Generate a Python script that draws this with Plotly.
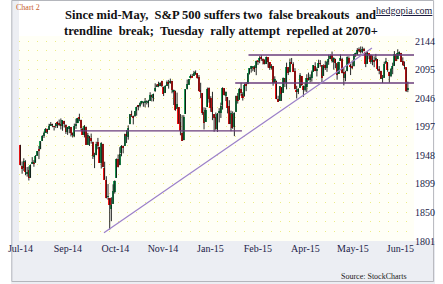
import plotly.graph_objects as go

# ---------------- data (S&P 500 daily, 31 Jul 2014 - 30 Jun 2015) ----------------
opens = [
    1965.1,
    1929.8, 1926.6, 1936.3, 1917.3, 1923.0, 1910.4, 1933.4, 1935.7, 1935.6, 1947.4, 1958.9, 1958.4, 1972.7, 1980.5, 1986.8, 1992.6, 1991.7, 1998.6, 2000.5, 1997.4, 1998.5,
    2004.1, 2003.6, 2001.7, 1998.0, 2007.2, 2000.7, 1988.4, 1992.9, 1996.7, 1986.0, 1981.9, 1999.3, 2003.1, 2012.7, 2009.1, 1992.8, 1983.3, 1997.3, 1966.2, 1979.0, 1978.2,
    1971.4, 1945.8, 1948.1, 1970.0, 1962.4, 1935.6, 1967.7, 1925.6, 1905.7, 1877.1, 1874.2, 1855.9, 1864.9, 1885.6, 1909.4, 1941.3, 1931.0, 1951.6, 1963.0, 1964.1, 1983.3, 1979.5, 2001.2,
    2018.2, 2015.8, 2015.3, 2023.3, 2032.4, 2032.0, 2038.2, 2037.8, 2039.2, 2039.7, 2038.3, 2041.5, 2051.2, 2045.9, 2057.5, 2065.1, 2070.2, 2067.4, 2074.8,
    2065.8, 2054.8, 2067.5, 2073.6, 2072.8, 2074.8, 2056.6, 2058.9, 2027.9, 2030.4, 2005.0, 1986.7, 1973.8, 2019.0, 2061.0, 2069.3, 2081.5, 2083.3, 2084.3, 2087.6, 2088.5, 2082.1,
    2058.9, 2054.4, 2022.2, 2005.6, 2030.6, 2063.5, 2046.1, 2031.6, 2018.4, 2013.8, 1992.3, 2020.8, 2020.2, 2034.3, 2063.0, 2050.4, 2047.9, 2032.3, 2002.5, 2019.4,
    1996.7, 2022.7, 2048.9, 2043.5, 2062.3, 2053.5, 2049.4, 2068.6, 2070.0, 2088.8, 2096.5, 2099.2, 2099.3, 2097.7, 2109.8, 2109.1, 2115.3, 2113.9, 2110.9,
    2105.2, 2115.8, 2107.7, 2098.5, 2100.9, 2072.3, 2076.1, 2044.7, 2041.1, 2064.6, 2055.4, 2080.6, 2072.8, 2098.7, 2090.3, 2108.0, 2103.9, 2093.1, 2059.9, 2055.8, 2064.1, 2084.1,
    2067.6, 2060.0, 2064.9, 2080.8, 2076.9, 2081.3, 2091.5, 2102.0, 2092.3, 2097.8, 2106.0, 2102.6, 2084.1, 2102.8, 2098.3, 2107.2, 2112.8, 2119.3, 2108.4, 2112.5, 2105.5,
    2087.4, 2110.2, 2112.6, 2091.3, 2080.0, 2092.1, 2115.6, 2102.9, 2099.6, 2100.4, 2122.1, 2121.3, 2129.5, 2127.8, 2125.6, 2130.4, 2125.3, 2105.1, 2122.3, 2120.7,
    2108.6, 2110.4, 2110.6, 2112.4, 2095.1, 2092.3, 2079.1, 2081.1, 2106.2, 2107.4, 2091.3, 2084.3, 2097.4, 2101.6, 2121.1, 2112.5, 2123.2, 2123.7, 2109.9, 2102.6, 2098.6, 2061.2,
]
highs = [
    1966.0,
    1937.4, 1942.9, 1939.4, 1927.9, 1928.9, 1932.4, 1944.9, 1939.7, 1948.4, 1955.2, 1964.0, 1972.0, 1982.6, 1988.6, 1994.8, 1993.5, 2002.0, 2005.0, 2002.1, 1998.6, 2003.4,
    2006.1, 2009.3, 2011.2, 2007.7, 2007.2, 2001.0, 1996.7, 1997.7, 1996.7, 1987.2, 2002.3, 2010.7, 2012.3, 2019.3, 2009.1, 1995.4, 1999.8, 1997.3, 1986.4, 1981.3, 1985.2,
    1971.4, 1952.3, 1971.2, 1977.8, 1962.4, 1970.4, 1967.7, 1937.0, 1912.1, 1898.7, 1874.2, 1876.0, 1898.2, 1905.0, 1942.5, 1949.3, 1961.9, 1965.3, 1964.6, 1985.1, 1991.4, 1999.4, 2018.2,
    2024.5, 2016.0, 2023.8, 2031.6, 2034.3, 2038.7, 2041.3, 2040.3, 2046.2, 2042.2, 2043.1, 2056.1, 2052.1, 2053.8, 2071.5, 2070.2, 2074.2, 2073.3, 2075.8,
    2065.8, 2068.2, 2076.3, 2077.3, 2079.5, 2075.8, 2060.6, 2058.9, 2055.5, 2030.4, 2018.7, 2016.9, 2016.8, 2061.2, 2077.9, 2078.8, 2086.7, 2087.6, 2092.7, 2093.6, 2088.5, 2085.7,
    2072.4, 2054.4, 2030.3, 2029.6, 2064.1, 2064.4, 2049.3, 2056.9, 2018.4, 2021.4, 2020.5, 2028.9, 2038.3, 2064.6, 2063.0, 2057.6, 2047.9, 2042.5, 2024.6, 2023.3,
    2021.7, 2050.3, 2054.7, 2063.6, 2072.4, 2056.2, 2070.9, 2073.5, 2088.5, 2097.0, 2101.3, 2100.2, 2102.1, 2110.6, 2110.1, 2117.9, 2119.6, 2113.9, 2112.7,
    2117.5, 2115.8, 2107.7, 2104.3, 2100.9, 2083.5, 2076.1, 2050.1, 2066.4, 2064.6, 2081.4, 2080.6, 2106.9, 2098.7, 2113.9, 2114.9, 2107.6, 2097.4, 2067.2, 2062.8, 2089.0, 2084.1,
    2067.6, 2072.2, 2087.0, 2089.8, 2086.7, 2093.3, 2102.6, 2107.6, 2098.6, 2111.9, 2111.3, 2102.6, 2103.9, 2109.6, 2110.0, 2120.5, 2120.9, 2125.9, 2116.0, 2113.7, 2105.5,
    2108.4, 2121.0, 2115.2, 2098.4, 2092.9, 2117.7, 2117.7, 2105.1, 2110.2, 2121.5, 2123.9, 2131.8, 2133.0, 2134.7, 2134.3, 2132.2, 2125.3, 2126.2, 2122.3, 2120.7,
    2119.2, 2117.6, 2121.9, 2112.9, 2101.0, 2093.0, 2085.7, 2108.5, 2115.0, 2107.4, 2091.3, 2097.4, 2106.8, 2126.7, 2121.1, 2129.9, 2126.0, 2123.7, 2116.0, 2108.9, 2098.6, 2074.3,
]
lows = [
    1930.7,
    1916.4, 1921.2, 1913.8, 1911.4, 1904.8, 1909.0, 1933.4, 1928.3, 1935.6, 1947.4, 1941.5, 1958.4, 1972.7, 1977.7, 1986.8, 1984.8, 1991.7, 1998.6, 1996.2, 1990.5, 1994.7,
    1994.9, 1998.1, 1992.4, 1990.1, 1995.6, 1984.6, 1983.0, 1985.9, 1980.3, 1978.5, 1979.1, 1993.3, 2003.1, 2006.6, 1991.0, 1982.8, 1978.6, 1966.0, 1966.2, 1964.0, 1968.0,
    1941.7, 1926.0, 1948.1, 1958.4, 1935.1, 1925.3, 1927.6, 1906.1, 1874.1, 1871.8, 1820.7, 1835.0, 1864.9, 1882.3, 1909.4, 1927.1, 1931.0, 1946.3, 1951.4, 1964.1, 1969.0, 1974.8, 2001.2,
    2013.7, 2001.0, 2014.0, 2015.9, 2025.1, 2030.2, 2035.3, 2031.3, 2030.4, 2035.2, 2030.2, 2041.5, 2040.4, 2040.5, 2056.8, 2065.1, 2064.8, 2066.6, 2065.1,
    2049.6, 2054.8, 2066.7, 2062.3, 2070.8, 2054.3, 2034.2, 2024.3, 2027.9, 2002.3, 1982.3, 1972.6, 1973.8, 2019.0, 2061.0, 2069.3, 2079.8, 2081.9, 2084.3, 2085.8, 2079.5, 2057.9,
    2046.0, 2017.3, 1992.4, 2005.6, 2030.6, 2038.3, 2022.6, 2008.3, 1988.4, 1991.5, 1988.1, 2004.5, 2012.0, 2026.4, 2050.5, 2041.0, 2019.9, 2001.5, 1989.2, 1993.4,
    1980.9, 2022.7, 2036.7, 2043.5, 2050.0, 2041.9, 2048.6, 2058.0, 2070.0, 2086.7, 2089.8, 2092.2, 2090.8, 2085.4, 2103.0, 2105.9, 2109.9, 2103.8, 2103.8,
    2104.5, 2098.3, 2094.5, 2095.2, 2067.3, 2072.2, 2044.2, 2039.7, 2041.1, 2041.2, 2055.4, 2065.1, 2061.2, 2085.6, 2090.3, 2104.4, 2091.5, 2061.1, 2045.5, 2053.0, 2064.1, 2067.0,
    2048.4, 2057.3, 2056.5, 2076.1, 2073.3, 2074.3, 2091.5, 2092.3, 2083.2, 2097.8, 2100.0, 2072.4, 2084.1, 2094.4, 2091.1, 2103.2, 2112.8, 2107.0, 2094.9, 2097.4, 2077.6,
    2087.4, 2110.2, 2088.5, 2067.9, 2075.0, 2092.1, 2104.6, 2085.6, 2096.0, 2100.4, 2116.8, 2120.0, 2124.5, 2122.6, 2122.9, 2126.1, 2099.2, 2105.1, 2112.8, 2104.9,
    2102.5, 2099.1, 2109.6, 2093.2, 2087.0, 2079.1, 2072.1, 2081.1, 2106.2, 2091.3, 2072.5, 2082.1, 2087.1, 2101.6, 2109.5, 2112.5, 2119.2, 2108.1, 2102.0, 2095.4, 2056.6, 2056.3,
]
closes = [
    1930.7,
    1925.2, 1939.0, 1920.2, 1920.2, 1909.6, 1931.6, 1936.9, 1933.8, 1946.7, 1955.2, 1955.1, 1971.7, 1981.6, 1986.5, 1992.4, 1988.4, 1997.9, 2000.0, 2000.1, 1996.7, 2003.4,
    2002.3, 2000.7, 1997.7, 2007.7, 2001.5, 1988.4, 1995.7, 1997.5, 1985.5, 1984.1, 1999.0, 2001.6, 2011.4, 2010.4, 1994.3, 1982.8, 1998.3, 1966.0, 1982.9, 1977.8, 1972.3,
    1946.2, 1946.2, 1967.9, 1964.8, 1935.1, 1968.9, 1928.2, 1906.1, 1874.7, 1877.7, 1862.5, 1862.8, 1886.8, 1904.0, 1941.3, 1927.1, 1950.8, 1964.6, 1961.6, 1985.1, 1982.3, 1994.7, 2018.1,
    2017.8, 2012.1, 2023.6, 2031.2, 2031.9, 2038.3, 2039.7, 2038.3, 2039.3, 2039.8, 2041.3, 2051.8, 2048.7, 2052.8, 2063.5, 2069.4, 2067.0, 2072.8, 2067.6,
    2053.4, 2066.6, 2074.3, 2071.9, 2075.4, 2060.3, 2059.8, 2026.1, 2035.3, 2002.3, 1989.6, 1972.7, 2012.9, 2061.2, 2070.7, 2078.5, 2082.2, 2081.9, 2088.8, 2090.6, 2080.4, 2058.9,
    2058.2, 2020.6, 2002.6, 2025.9, 2062.1, 2044.8, 2028.3, 2023.0, 2011.3, 1992.7, 2019.4, 2022.6, 2032.1, 2063.2, 2051.8, 2057.1, 2029.6, 2002.2, 2021.3, 1995.0,
    2020.9, 2050.0, 2041.5, 2062.5, 2055.5, 2046.7, 2068.6, 2068.5, 2088.5, 2097.0, 2100.3, 2099.7, 2097.5, 2110.3, 2109.7, 2115.5, 2113.9, 2110.7, 2104.5,
    2117.4, 2107.8, 2098.5, 2101.0, 2071.3, 2079.4, 2044.2, 2040.2, 2066.0, 2053.4, 2081.2, 2074.3, 2099.5, 2089.3, 2108.1, 2104.4, 2091.5, 2061.1, 2056.2, 2061.0, 2086.2, 2067.9,
    2059.7, 2067.0, 2080.6, 2076.3, 2081.9, 2091.2, 2102.1, 2092.4, 2095.8, 2106.6, 2105.0, 2081.2, 2100.4, 2097.3, 2108.0, 2112.9, 2117.7, 2108.9, 2114.8, 2106.9, 2085.5,
    2108.3, 2114.5, 2089.5, 2080.2, 2088.0, 2116.1, 2105.3, 2099.1, 2098.5, 2121.1, 2122.7, 2129.2, 2127.8, 2125.9, 2130.8, 2126.1, 2104.2, 2123.5, 2120.8, 2107.4,
    2111.7, 2109.6, 2114.1, 2095.8, 2092.8, 2079.3, 2080.2, 2105.2, 2108.9, 2094.1, 2084.4, 2096.3, 2100.4, 2121.2, 2110.0, 2122.9, 2124.2, 2108.6, 2102.3, 2101.5, 2057.6, 2063.1,
]

x_tick_labels = ["Jul-14", "Sep-14", "Oct-14", "Nov-14", "Jan-15", "Feb-15", "Apr-15", "May-15", "Jun-15"]
y_tick_values = [1801, 1850, 1899, 1948, 1997, 2046, 2095, 2144]

# analyst's horizontal lines: level, from (trading-day index), to (index, None = right edge)
hline_levels = [1990, 2120, 2072]
hline_from = [32.1, 135.4, 127.5]
hline_to = [131.5, None, None]
# rising trendline from the October low
trend_x = [49.6, 208.7]
trend_y = [1815, 2132]

# ---------------- layout geometry ----------------
W_IMG, H_IMG = 443, 284
L, R, T, B = 8, 22, 36, 43
PW, PH = W_IMG - L - R, H_IMG - T - B
X_RANGE = [-0.85, 233.65]
Y_RANGE = [1801, 2152.6]
TICK_STEP = 28.2

def px_x(px):
    return (px - L) / PW

def px_y(py):
    return (H_IMG - B - py) / PH

idx = list(range(len(closes)))
GREEN, RED, DARKRED = "#1c9c55", "#f21414", "#981c1c"
colors = []
for i, (o, c) in enumerate(zip(opens, closes)):
    prev = closes[i - 1] if i > 0 else o
    if c >= o:
        colors.append(GREEN)
    elif c >= prev:
        colors.append(DARKRED)
    else:
        colors.append(RED)
body_base = [min(o, c) for o, c in zip(opens, closes)]
body_len = [max(abs(c - o), 1.0) for o, c in zip(opens, closes)]

wx, wy = [], []
for i, h, l in zip(idx, highs, lows):
    wx += [i, i, None]
    wy += [l, h, None]

fig = go.Figure()
fig.add_trace(go.Scatter(x=wx, y=wy, mode="lines", line=dict(color="#111111", width=0.9),
                         hoverinfo="skip", showlegend=False))
fig.add_trace(go.Bar(x=idx, y=body_len, base=body_base, width=0.95,
                     marker=dict(color=colors, line=dict(width=0)), showlegend=False,
                     customdata=list(zip(opens, highs, lows, closes)),
                     hovertemplate="O %{customdata[0]}<br>H %{customdata[1]}<br>L %{customdata[2]}<br>C %{customdata[3]}<extra></extra>"))

shapes = []
# grey frame areas (bottom band, left strip)
shapes.append(dict(type="rect", xref="paper", yref="paper", x0=px_x(0), x1=px_x(W_IMG),
                   y0=px_y(H_IMG), y1=px_y(H_IMG - B), fillcolor="#eceef3", line=dict(width=0), layer="below"))
shapes.append(dict(type="rect", xref="paper", yref="paper", x0=px_x(0), x1=px_x(L),
                   y0=px_y(H_IMG), y1=px_y(0), fillcolor="#eceef3", line=dict(width=0), layer="below"))
shapes.append(dict(type="rect", xref="paper", yref="paper", x0=px_x(0.5), x1=px_x(W_IMG - 1.5),
                   y0=px_y(H_IMG - 2.5), y1=px_y(0.5), fillcolor="rgba(0,0,0,0)",
                   line=dict(width=1, color="#b4b6bc"), layer="below"))
for lev, x0, x1 in zip(hline_levels, hline_from, hline_to):
    shapes.append(dict(type="line", xref="x", yref="y", x0=x0, x1=(X_RANGE[1] if x1 is None else x1),
                       y0=lev, y1=lev, line=dict(color="#6a3d7c", width=1.3)))
shapes.append(dict(type="line", xref="x", yref="y", x0=trend_x[0], x1=trend_x[1],
                   y0=trend_y[0], y1=trend_y[1], line=dict(color="#9b7fc9", width=1.2)))

NB = "\u00a0"
title1 = f"Since mid-May,{NB}{NB}S&P 500 suffers two{NB}{NB}false breakouts{NB}{NB}and"
title2 = f"trendline{NB}{NB}break;{NB}{NB}Tuesday{NB}{NB}rally attempt{NB}{NB}repelled at 2070+"
serif = "Liberation Serif"
annotations = [
    dict(text=f"<b>{title1}</b>", x=px_x(219), y=px_y(15), xref="paper", yref="paper",
         showarrow=False, xanchor="center", yanchor="middle", font=dict(family=serif, size=12.5, color="#111111")),
    dict(text=f"<b>{title2}</b>", x=px_x(219), y=px_y(31), xref="paper", yref="paper",
         showarrow=False, xanchor="center", yanchor="middle", font=dict(family=serif, size=12.5, color="#111111")),
    dict(text="Chart 2", x=px_x(3), y=px_y(7), xref="paper", yref="paper", showarrow=False,
         xanchor="left", yanchor="middle", font=dict(family=serif, size=8, color="#c8602e")),
    dict(text="<u>hedgopia.com</u>", x=px_x(411), y=px_y(10), xref="paper", yref="paper", showarrow=False,
         xanchor="center", yanchor="middle", font=dict(family=serif, size=10, color="#1c1c40")),
    dict(text="Source: StockCharts", x=px_x(416), y=px_y(276), xref="paper", yref="paper", showarrow=False,
         xanchor="right", yanchor="middle", font=dict(family=serif, size=8, color="#202020")),
]

dot_grid = dict(gridcolor="#ecec86", griddash="1px,8px", gridwidth=1)
fig.update_layout(
    width=W_IMG, height=H_IMG,
    margin=dict(l=L, r=R, t=T, b=B, pad=0),
    paper_bgcolor="#ffffff", plot_bgcolor="#fffff6",
    showlegend=False, bargap=0,
    shapes=shapes, annotations=annotations,
    xaxis=dict(range=X_RANGE, tickmode="array",
               tickvals=[j * TICK_STEP for j in range(len(x_tick_labels))],
               ticktext=x_tick_labels, showgrid=False, zeroline=False, showline=False, ticks="",
               ticklabeloverflow="allow",
               tickfont=dict(family=serif, size=10, color="#1c1c48")),
    yaxis=dict(range=Y_RANGE, side="right", tickmode="array", tickvals=y_tick_values,
               ticktext=[str(v) for v in y_tick_values], zeroline=False, showline=False, ticks="",
               showgrid=True, **dot_grid,
               minor=dict(tick0=1801, dtick=49 / 3, showgrid=True, **dot_grid),
               tickfont=dict(family=serif, size=10, color="#1c1c48")),
)

fig.write_html("out.html")
